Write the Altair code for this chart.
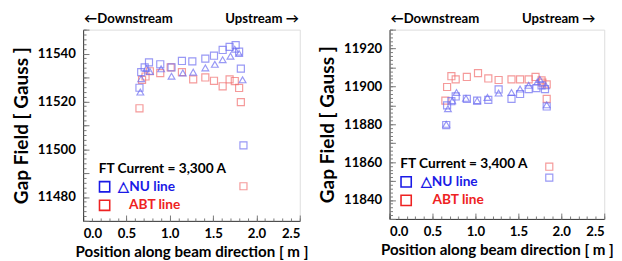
import altair as alt
import pandas as pd

# ---- Left panel: FT current 3,300 A ----
nu_sq_x = [0.65, 0.67, 0.71, 0.76, 0.89, 1.02, 1.14, 1.26, 1.41, 1.51, 1.61, 1.69, 1.76, 1.80, 1.82, 1.85]
nu_sq_y = [11525.7, 11532.2, 11534.2, 11536.3, 11535.5, 11534.2, 11536.9, 11536.7, 11537.9, 11539.1,
           11541.5, 11542.8, 11543.5, 11540.8, 11533.7, 11501.6]
nu_tri_x = [0.66, 0.67, 0.73, 0.77, 0.90, 1.02, 1.15, 1.27, 1.41, 1.52, 1.61, 1.70, 1.75, 1.80, 1.84]
nu_tri_y = [11523.9, 11529.5, 11533.8, 11532.5, 11533.6, 11530.5, 11531.9, 11532.2, 11534.0, 11535.5,
            11537.4, 11538.9, 11541.8, 11540.0, 11529.0]
abt_x = [0.65, 0.68, 0.72, 0.77, 0.89, 1.01, 1.14, 1.27, 1.41, 1.51, 1.61, 1.69, 1.75, 1.80, 1.82, 1.85]
abt_y = [11517.1, 11529.0, 11530.4, 11532.6, 11531.8, 11534.2, 11532.2, 11529.2, 11530.0, 11528.6,
         11526.3, 11529.2, 11528.5, 11525.6, 11519.7, 11484.5]

# ---- Right panel: FT current 3,400 A ----
nu_sq2_x = [0.66, 0.67, 0.72, 0.77, 0.90, 1.02, 1.15, 1.27, 1.42, 1.52, 1.62, 1.71, 1.77, 1.81, 1.83, 1.86]
nu_sq2_y = [11879.6, 11890.0, 11892.2, 11894.7, 11893.4, 11892.5, 11892.9, 11898.4, 11893.4, 11896.0,
            11898.6, 11899.1, 11900.6, 11898.6, 11889.4, 11851.8]
nu_tri2_x = [0.66, 0.68, 0.73, 0.78, 0.89, 1.02, 1.14, 1.27, 1.42, 1.52, 1.62, 1.72, 1.75, 1.82, 1.83]
nu_tri2_y = [11880.0, 11888.2, 11892.5, 11896.8, 11893.7, 11892.5, 11894.2, 11896.5, 11896.8, 11898.6,
             11900.6, 11902.3, 11903.7, 11900.3, 11890.3]
abt2_x = [0.65, 0.67, 0.72, 0.77, 0.90, 1.03, 1.15, 1.27, 1.42, 1.52, 1.62, 1.70, 1.77, 1.78, 1.83, 1.83, 1.86]
abt2_y = [11892.5, 11899.7, 11905.4, 11903.7, 11905.0, 11907.0, 11904.2, 11903.4, 11903.7, 11903.7,
          11903.7, 11905.0, 11903.2, 11902.0, 11901.1, 11893.4, 11857.6]

x_ticks = [0.0, 0.5, 1.0, 1.5, 2.0, 2.5]
x_minor = [round(i * 0.1, 1) for i in range(26)]
left_y_ticks = [11480, 11500, 11520, 11540]
right_y_ticks = [11840, 11860, 11880, 11900, 11920]

FONT = "Lato"
BLUE_M = "#6e6ef2"
RED_M = "#f27070"
BLUE_T = "#1a1ae6"
RED_T = "#ee2222"


def panel(sq_x, sq_y, tri_x, tri_y, abt_x_, abt_y_, ydom, yticks, current, W, H, up_x, leg):
    xs = alt.Scale(domain=[0, 2.5], nice=False)
    ys = alt.Scale(domain=ydom, nice=False, zero=False)
    dsq = pd.DataFrame({"x": sq_x, "y": sq_y})
    dtri = pd.DataFrame({"x": tri_x, "y": tri_y})
    dabt = pd.DataFrame({"x": abt_x_, "y": abt_y_})
    y_minor = list(range(ydom[0], ydom[1] + 1, 2))
    y_major = list(range(ydom[0], ydom[1] + 1, 10))

    main = alt.Chart(dsq).mark_point(opacity=0).encode(
        x=alt.X("x:Q", scale=xs, axis=alt.Axis(
            values=x_ticks, format=".1f", ticks=False, grid=False, domainColor="#333",
            labelFont=FONT, labelFontWeight="bold", labelFontSize=13.5, labelColor="black",
            labelPadding=6, title="Position along beam direction [ m ]", titleFont=FONT,
            titleFontWeight="bold", titleFontSize=15.5, titleColor="black", titlePadding=5)),
        y=alt.Y("y:Q", scale=ys, axis=alt.Axis(
            values=yticks, format="d", ticks=False, grid=False, domainColor="#333",
            labelFont=FONT, labelFontWeight="bold", labelFontSize=13.5, labelColor="black",
            labelPadding=8, title="Gap Field [ Gauss ]", titleFont=FONT,
            titleFontWeight="bold", titleFontSize=19.5, titleColor="black", titlePadding=6)),
    )

    def tick_layer(xv, yv, size):
        return alt.Chart(dsq).mark_point(opacity=0).encode(
            x=alt.X("x:Q", scale=xs, axis=alt.Axis(
                values=xv, labels=False, domain=False, grid=False, title=None, orient="bottom",
                tickSize=size, offset=-size, tickColor="#777")),
            y=alt.Y("y:Q", scale=ys, axis=alt.Axis(
                values=yv, labels=False, domain=False, grid=False, title=None, orient="left",
                tickSize=size, offset=-size, tickColor="#777")),
        )

    minor = tick_layer(x_minor, y_minor, 3)
    major = tick_layer(x_ticks, y_major, 6)

    def pts(df, shape, color, size):
        return alt.Chart(df).mark_point(shape=shape, filled=False, color=color, size=size,
                                        strokeWidth=1.2).encode(
            x=alt.X("x:Q", scale=xs, axis=None),
            y=alt.Y("y:Q", scale=ys, axis=None))

    p_abt = pts(dabt, "square", RED_M, 52)
    p_sq = pts(dsq, "square", BLUE_M, 52)
    p_tri = pts(dtri, "triangle-up", BLUE_M, 48)

    tdf = pd.DataFrame({"t": [0]})

    def txt(text, x, y, color="black", align="left", size=14):
        return alt.Chart(tdf).mark_text(text=text, font=FONT, fontWeight="bold", fontSize=size,
                                        color=color, align=align, baseline="middle").encode(
            x=alt.value(x), y=alt.value(y))

    def legsq(x, y, color):
        return alt.Chart(tdf).mark_point(shape="square", filled=False, color=color, size=110,
                                         strokeWidth=1.6, opacity=1).encode(
            x=alt.value(x), y=alt.value(y))

    lx, ly, nux, abtx = leg
    layers = [main, minor, major, p_abt, p_sq, p_tri,
              txt("\u2190Downstream", 1, -11, size=13.5),
              txt("Upstream \u2192", up_x, -11, align="right", size=13.5),
              txt(current, lx, ly),
              legsq(lx + 6, ly + 18, BLUE_T),
              txt("\u25b3NU line", nux, ly + 18, color=BLUE_T),
              legsq(lx + 6, ly + 37, RED_T),
              txt("ABT line", abtx, ly + 37, color=RED_T)]
    return alt.layer(*layers).resolve_axis(x="independent", y="independent").properties(
        width=W, height=H)


left = panel(nu_sq_x, nu_sq_y, nu_tri_x, nu_tri_y, abt_x, abt_y, [11470, 11550], left_y_ticks,
             "FT Current = 3,300 A", 222, 196, 221, (16, 143, 36, 47))
right = panel(nu_sq2_x, nu_sq2_y, nu_tri2_x, nu_tri2_y, abt2_x, abt2_y, [11830, 11930], right_y_ticks,
              "FT Current = 3,400 A", 220, 194, 211, (11, 138, 32, 44))

chart = alt.hconcat(left, right, spacing=9).resolve_scale(
    x="independent", y="independent").properties(
    padding={"left": 3, "top": 0, "right": 0, "bottom": 0}
).configure_view(stroke=None).configure(background="white")

chart.save("out.html", embed_options={"renderer": "svg", "actions": False})
